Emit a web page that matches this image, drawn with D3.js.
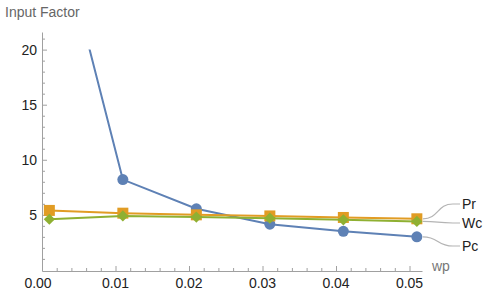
<!DOCTYPE html>
<html>
<head>
<meta charset="utf-8">
<script src="https://cdn.jsdelivr.net/npm/d3@7"></script>
<style>
  body { margin: 0; background: #fff; }
  svg { display: block; font-family: "Liberation Sans", Arial, sans-serif; }
</style>
</head>
<body>
<svg id="chart" width="489" height="295"></svg>
<script>
// Data
const wp = [0.001, 0.011, 0.021, 0.031, 0.041, 0.051];
const pc = [34.3, 8.2, 5.55, 4.15, 3.5, 3.0];
const pr = [5.4, 5.15, 5.0, 4.9, 4.76, 4.64];
const wc = [4.6, 4.9, 4.8, 4.7, 4.55, 4.4];
const xTicks = [0, 0.01, 0.02, 0.03, 0.04, 0.05];
const yTicks = [5, 10, 15, 20];

const series = [
  { name: "Pc", values: pc, color: "#5e81b5", marker: "circle", labelY: 246 },
  { name: "Pr", values: pr, color: "#e19c24", marker: "square", labelY: 204 },
  { name: "Wc", values: wc, color: "#8fb032", marker: "diamond", labelY: 223 }
];

const svg = d3.select("#chart");

const x = d3.scaleLinear().domain([0, 0.0517]).range([42, 422]);
const y = d3.scaleLinear().domain([-0.1, 21.6]).range([271, 32]);

const axisColor = "#a0a0a0";
const fontSize = 14;

// clip lines at value 20 (plot range)
svg.append("defs").append("clipPath").attr("id", "clip")
  .append("rect")
  .attr("x", x(0)).attr("y", y(20))
  .attr("width", 450).attr("height", y(-0.1) - y(20) + 10);

// Axes
const xAxis = d3.axisBottom(x)
  .tickValues(d3.range(0, 0.0517, 0.002))
  .tickSize(0)
  .tickFormat("");
const gx = svg.append("g").attr("transform", `translate(0,${y(-0.1)})`).call(xAxis);
gx.select(".domain").attr("stroke", axisColor);
gx.selectAll(".tick line").attr("stroke", axisColor)
  .attr("y2", (d, i) => i % 5 === 0 ? -5 : -3);

svg.append("g").selectAll("text").data(xTicks).join("text")
  .attr("x", (d, i) => x(d) - (i === 0 ? 4 : 0))
  .attr("y", 288)
  .attr("text-anchor", "middle")
  .attr("font-size", fontSize)
  .attr("fill", "#222")
  .text(d => d3.format(".2f")(d));

const yAxis = d3.axisLeft(y)
  .tickValues(d3.range(1, 22, 1))
  .tickSize(0)
  .tickFormat("");
const gy = svg.append("g").attr("transform", `translate(${x(0)},0)`).call(yAxis);
gy.select(".domain").attr("stroke", axisColor);
gy.selectAll(".tick line").attr("stroke", axisColor)
  .attr("x2", d => d % 5 === 0 ? 5 : 3);

svg.append("g").selectAll("text").data(yTicks).join("text")
  .attr("x", 37)
  .attr("y", d => y(d))
  .attr("dy", "0.35em")
  .attr("text-anchor", "end")
  .attr("font-size", fontSize)
  .attr("fill", "#222")
  .text(d => d);

// Axis labels
svg.append("text").attr("x", 5).attr("y", 17)
  .attr("font-size", fontSize).attr("fill", "#666").text("Input Factor");
svg.append("text").attr("x", 432).attr("y", 271)
  .attr("font-size", fontSize).attr("fill", "#777").text("wp");

// Series
const line = d3.line().x((d, i) => x(wp[i])).y(d => y(d));
const plot = svg.append("g");

series.forEach(s => {
  plot.append("path")
    .datum(s.values)
    .attr("clip-path", "url(#clip)")
    .attr("fill", "none")
    .attr("stroke", s.color)
    .attr("stroke-width", 2)
    .attr("d", line);

  const pts = s.values
    .map((v, i) => ({ x: wp[i], v }))
    .filter(p => p.v <= 20);

  const g = plot.append("g").attr("fill", s.color);
  if (s.marker === "circle") {
    g.selectAll("circle").data(pts).join("circle")
      .attr("cx", p => x(p.x)).attr("cy", p => y(p.v)).attr("r", 5.5);
  } else if (s.marker === "square") {
    g.selectAll("rect").data(pts).join("rect")
      .attr("x", p => x(p.x) - 5.5).attr("y", p => y(p.v) - 5.5)
      .attr("width", 11).attr("height", 11);
  } else {
    const sym = d3.symbol().type(d3.symbolDiamond2).size(80);
    g.selectAll("path").data(pts).join("path")
      .attr("transform", p => `translate(${x(p.x)},${y(p.v)})`)
      .attr("d", sym);
  }
});

// Callout labels
const labelX = 462;
series.forEach(s => {
  const px = x(wp[wp.length - 1]);
  const py = y(s.values[s.values.length - 1]);
  const ly = s.labelY;
  svg.append("path")
    .attr("fill", "none")
    .attr("stroke", "#b4b4b4")
    .attr("stroke-width", 1.2)
    .attr("d", `M${px + 6},${py} C${px + 22},${py} ${px + 20},${ly} ${px + 36},${ly} L${labelX - 2},${ly}`);
  svg.append("text")
    .attr("x", labelX).attr("y", ly).attr("dy", "0.35em")
    .attr("font-size", fontSize).attr("fill", "#222")
    .text(s.name);
});
</script>
</body>
</html>
